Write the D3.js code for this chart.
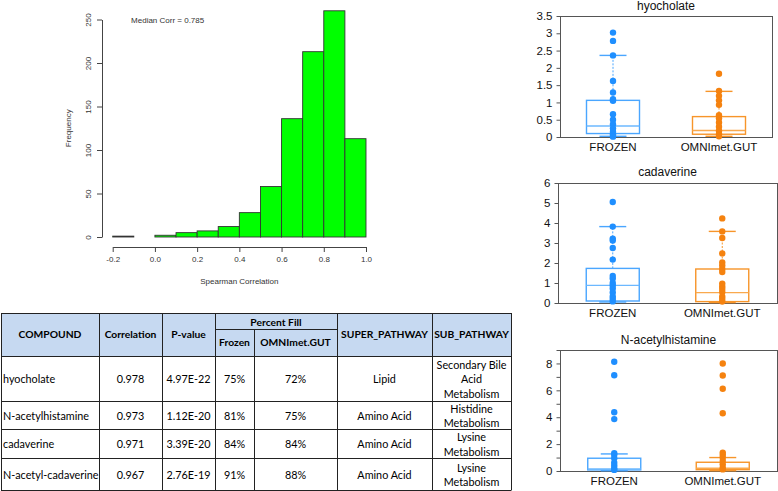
<!DOCTYPE html>
<html><head><meta charset="utf-8">
<script src="https://cdn.jsdelivr.net/npm/d3@7"></script>
<style>body{margin:0;background:#fff} svg{display:block}</style>
</head><body><svg id="c" width="778" height="491"></svg>
<script>
// ---------- DATA ----------
// Histogram of Spearman correlations
const histBinStarts = [-0.2,-0.1,0.0,0.1,0.2,0.3,0.4,0.5,0.6,0.7,0.8,0.9];
const histCounts    = [1,0,2,5,7,12,28,58,136,213,260,113];
const histBinWidth  = 0.1;
const histXTicks = [-0.2,0.0,0.2,0.4,0.6,0.8,1.0];
const histYTicks = [0,50,100,150,200,250];
const medianCorr = 0.785;

// Table
const tblCompound = ["hyocholate","N-acetylhistamine","cadaverine","N-acetyl-cadaverine"];
const tblCorrelation = ["0.978","0.973","0.971","0.967"];
const tblPvalue = ["4.97E-22","1.12E-20","3.39E-20","2.76E-19"];
const tblFrozen = ["75%","81%","84%","91%"];
const tblOmni = ["72%","75%","84%","88%"];
const tblSuper = ["Lipid","Amino Acid","Amino Acid","Amino Acid"];
const tblSub = [["Secondary Bile","Acid","Metabolism"],["Histidine","Metabolism"],["Lysine","Metabolism"],["Lysine","Metabolism"]];

// Box plots
const groups = ["FROZEN","OMNImet.GUT"];
const hyoFrozen = [3.02,2.78,2.36,1.62,1.29,1.09,1.05,0.66,0.5,0.37,0.25,0.15,0.08,0.03,0.01];
const hyoOmni   = [1.83,1.33,1.19,1.06,0.93,0.63,0.54,0.42,0.3,0.18,0.09,0.02];
const cadFrozen = [5.05,3.82,3.22,3.12,2.75,2.17,1.35,1.22,1.0,0.88,0.73,0.53,0.33,0.2,0.08];
const cadOmni   = [4.23,3.58,3.25,2.48,2.03,1.87,1.7,1.55,0.97,0.83,0.7,0.55,0.33,0.2,0.07];
const nahFrozen = [8.13,7.12,4.37,3.86,1.33,1.2,0.95,0.62,0.4,0.2,0.08];
const nahOmni   = [8.0,7.1,6.12,4.29,1.37,1.2,1.0,0.75,0.5,0.25,0.12];
// box stats: [lowWhisker, q1, median, q3, highWhisker]
const hyoStats = [[0.02,0.1,0.32,1.06,2.36],[0.02,0.08,0.19,0.59,1.32]];
const cadStats = [[0.05,0.1,0.88,1.73,3.82],[0.02,0.07,0.52,1.7,3.58]];
const nahStats = [[0.02,0.08,0.15,0.95,1.27],[0.02,0.1,0.2,0.65,1.0]];
const hyoTicks = [0,0.5,1,1.5,2,2.5,3,3.5];
const cadTicks = [0,1,2,3,4,5,6];
const nahTicks = [0,1,2,3,4,5,6,7,8,9];
const nahLabeled = [0,2,4,6,8];

// ---------- DRAW ----------
const svg = d3.select("#c");
const FONT = "'Liberation Sans', Arial, sans-serif";

// Histogram
(function(){
  const g = svg.append("g").attr("font-family", FONT);
  const x = d3.scaleLinear().domain([-0.2,1.0]).range([112.7,366]);
  const y = d3.scaleLinear().domain([0,250]).range([237,19.5]);
  g.selectAll("rect").data(histBinStarts).join("rect")
    .attr("x", d=>x(d)).attr("width", d=>x(d+histBinWidth)-x(d))
    .attr("y", (d,i)=>y(histCounts[i])).attr("height",(d,i)=>y(0)-y(histCounts[i]))
    .attr("fill","#00ff00").attr("stroke","#333").attr("stroke-width",0.9);
  const xa = g.append("g").attr("transform","translate(0,247)")
    .call(d3.axisBottom(x).tickValues(histXTicks).tickFormat(d=>d.toFixed(1)).tickSize(5).tickSizeOuter(0));
  xa.selectAll("text").attr("font-size",8).attr("fill","#333").attr("dy","0.9em");
  const ya = g.append("g").attr("transform","translate(102,0)")
    .call(d3.axisLeft(y).tickValues(histYTicks).tickSize(5).tickSizeOuter(0));
  ya.selectAll("text").attr("font-size",8).attr("fill","#333")
    .attr("transform","rotate(-90)").attr("x",0).attr("y",-14).attr("dy","0.32em").attr("text-anchor","middle");
  g.selectAll(".domain,.tick line").attr("stroke","#444");
  g.append("text").attr("x",(x(-0.2)+x(1.0))/2).attr("y",284).attr("text-anchor","middle")
    .attr("font-size",8).attr("fill","#333").text("Spearman Correlation");
  g.append("text").attr("transform",`translate(71,${(y(0)+y(250))/2}) rotate(-90)`).attr("text-anchor","middle")
    .attr("font-size",8).attr("fill","#333").text("Frequency");
  g.append("text").attr("x",x(-0.113)).attr("y",y(250)+3).attr("font-size",8).attr("fill","#333")
    .text("Median Corr = " + medianCorr);
})();

// Table
(function(){
  const g = svg.append("g").attr("font-family","Lato, 'Open Sans', sans-serif").attr("font-size",10.8).attr("fill","#000");
  const cx = [1,99,162,215,254,337,432,511]; // column boundaries
  const top=313, hmid=329, hbot=356;
  const rowB = [356,401,429,458,490];
  g.append("rect").attr("x",cx[0]).attr("y",top).attr("width",cx[7]-cx[0]).attr("height",hbot-top).attr("fill","#c6d9f1");
  const ln = (x1,y1,x2,y2)=>g.append("line").attr("x1",x1).attr("y1",y1).attr("x2",x2).attr("y2",y2)
      .attr("stroke","#222").attr("stroke-width",1);
  [top,hbot,...rowB.slice(1)].forEach(yv=>ln(cx[0],yv+0.5,cx[7],yv+0.5));
  ln(cx[3],hmid+0.5,cx[5],hmid+0.5);
  cx.forEach((xv,i)=>{ if(i===4) ln(xv+0.5,hmid,xv+0.5,rowB[4]+0.5); else ln(xv+0.5,top,xv+0.5,rowB[4]+0.5); });
  const mid = (a,b)=>(cx[a]+cx[b])/2;
  const hdr = (t,xv,yv)=>g.append("text").attr("x",xv).attr("y",yv).attr("text-anchor","middle")
      .attr("dy","0.35em").attr("font-weight","bold").attr("font-size",10.3).text(t);
  const hc = (top+hbot)/2;
  hdr("COMPOUND",mid(0,1),hc); hdr("Correlation",mid(1,2),hc); hdr("P-value",mid(2,3),hc);
  hdr("Percent Fill",mid(3,5),(top+hmid)/2+1); hdr("Frozen",mid(3,4),(hmid+hbot)/2); hdr("OMNImet.GUT",mid(4,5),(hmid+hbot)/2);
  hdr("SUPER_PATHWAY",mid(5,6),hc); hdr("SUB_PATHWAY",mid(6,7),hc);
  const cell = (t,xv,yv,anchor)=>g.append("text").attr("x",xv).attr("y",yv).attr("text-anchor",anchor||"middle")
      .attr("dy","0.35em").text(t);
  tblCompound.forEach((c,i)=>{
    const yc = (rowB[i]+rowB[i+1])/2+1;
    cell(c,cx[0]+2,yc,"start");
    cell(tblCorrelation[i],mid(1,2),yc);
    cell(tblPvalue[i],mid(2,3),yc);
    cell(tblFrozen[i],mid(3,4),yc);
    cell(tblOmni[i],mid(4,5),yc);
    cell(tblSuper[i],mid(5,6),yc);
    const lines = tblSub[i], lh = 14.5;
    lines.forEach((l,k)=>cell(l,mid(6,7),yc+(k-(lines.length-1)/2)*lh));
  });
})();

// Box plots
function boxPanel(cfg){
  const g = svg.append("g").attr("font-family",FONT);
  const [x0,x1,y0,y1] = cfg.frame;
  const y = d3.scaleLinear().domain(cfg.domain).range([y1,y0]);
  const x = d3.scalePoint().domain(groups).range([x0,x1]).padding(0.5);
  const colors = [{pt:"#1f8fff",box:"#4aa6ff",med:"#6cb8ff"},{pt:"#f5820f",box:"#f7952a",med:"#f9a94e"}];
  const bw = 53, cw = 27;
  g.append("rect").attr("x",x0+0.5).attr("y",y0+0.5).attr("width",x1-x0).attr("height",y1-y0)
    .attr("fill","none").attr("stroke","#555").attr("stroke-width",1);
  const ax = g.append("g").attr("transform",`translate(${x0+0.5},0)`)
    .call(d3.axisLeft(y).tickValues(cfg.ticks).tickSize(4).tickSizeOuter(0)
      .tickFormat(d=> cfg.labeled.includes(d) ? d3.format("~g")(d) : ""));
  ax.select(".domain").remove();
  ax.selectAll(".tick line").attr("stroke","#555");
  ax.selectAll("text").attr("font-size",11.5).attr("fill","#111").attr("x",-8);
  g.append("text").attr("x",(x0+x1)/2).attr("y",cfg.titleY).attr("text-anchor","middle")
    .attr("font-size",12).attr("fill","#111").text(cfg.title);
  groups.forEach((grp,i)=>{
    const c = x(grp), s = cfg.stats[i], col = colors[i];
    g.append("text").attr("x",c).attr("y",y1+14).attr("text-anchor","middle")
      .attr("font-size",11.5).attr("fill","#111").text(grp);
    // whiskers
    g.append("line").attr("x1",c).attr("x2",c).attr("y1",y(s[3])).attr("y2",y(s[4]))
      .attr("stroke",col.box).attr("stroke-width",1).attr("stroke-dasharray","2,1.5");
    g.append("line").attr("x1",c).attr("x2",c).attr("y1",y(s[1])).attr("y2",y(s[0]))
      .attr("stroke",col.box).attr("stroke-width",1).attr("stroke-dasharray","2,1.5");
    [s[0],s[4]].forEach(v=>g.append("line").attr("x1",c-cw/2).attr("x2",c+cw/2).attr("y1",y(v)).attr("y2",y(v))
      .attr("stroke",col.box).attr("stroke-width",1.4));
    g.append("rect").attr("x",c-bw/2).attr("width",bw).attr("y",y(s[3])).attr("height",y(s[1])-y(s[3]))
      .attr("fill","none").attr("stroke",col.box).attr("stroke-width",1.4);
    g.append("line").attr("x1",c-bw/2).attr("x2",c+bw/2).attr("y1",y(s[2])).attr("y2",y(s[2]))
      .attr("stroke",col.med).attr("stroke-width",1.4);
    g.selectAll(null).data(cfg.points[i]).join("circle")
      .attr("cx",c).attr("cy",d=>y(d)).attr("r",3.2).attr("fill",col.pt);
  });
}
boxPanel({title:"hyocholate",frame:[560,772,16,137],domain:[0,3.5],ticks:hyoTicks,labeled:hyoTicks,
  titleY:10,stats:hyoStats,points:[hyoFrozen,hyoOmni]});
boxPanel({title:"cadaverine",frame:[558,777,183,303],domain:[0,6],ticks:cadTicks,labeled:cadTicks,
  titleY:176,stats:cadStats,points:[cadFrozen,cadOmni]});
boxPanel({title:"N-acetylhistamine",frame:[560,777,350,471],domain:[0,9],ticks:nahTicks,labeled:nahLabeled,
  titleY:344,stats:nahStats,points:[nahFrozen,nahOmni]});
</script></body></html>
